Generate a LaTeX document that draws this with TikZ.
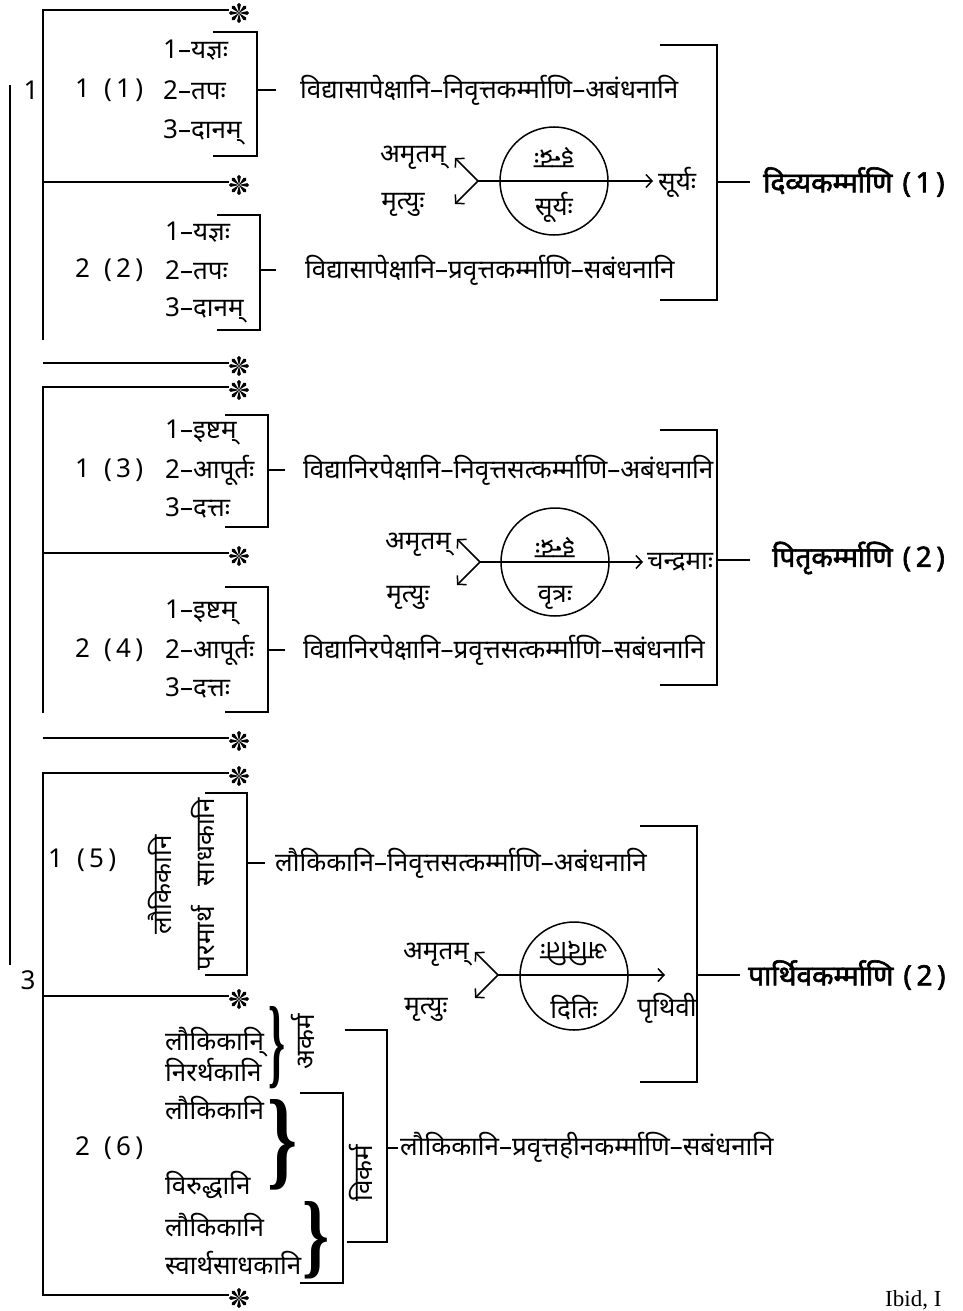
\documentclass[tikz,border=0pt]{standalone}
\usepackage{fontspec}
\newfontfamily\dev[Script=Devanagari]{Noto Sans}
\newfontfamily\devb[Script=Devanagari,FakeBold=2.2]{Noto Sans}
\newfontfamily\serifl{Liberation Serif}
\usetikzlibrary{arrows.meta,calc}
\tikzset{
 ln/.style={line width=1.5pt},
 tx/.style={font=\dev\fontsize{26}{28}\selectfont, inner sep=0pt, anchor=west},
 bd/.style={font=\devb\fontsize{28}{30}\selectfont, inner sep=0pt, anchor=west},
 ar/.style={ln,-{Straight Barb[length=6pt,width=13pt,line width=1.5pt]}},
 astn/.style={minimum size=19pt, inner sep=0pt},
 astr/.pic={\foreach \a in {0,45,...,315}{\fill[rotate=\a] (0,0) -- (8.3,-1.9) arc[start angle=-90,end angle=90,radius=1.9] -- cycle;}},
 circ/.style={circle,draw,line width=1.5pt,minimum size=108pt,inner sep=0pt},
 brc/.style={inner sep=0pt},
}
\newcommand\astat[2]{\node[astn] (#1) at (#2) {}; \pic at (#1.center) {astr};}
\newcommand\bigbr[2]{\resizebox{#1}{#2}{\serifl\bfseries\}}}
\begin{document}
\begin{tikzpicture}[x=1pt,y=1pt]
\useasboundingbox (0,0) rectangle (962,-1311);
% outer line
\coordinate (o1) at (10,-85); \coordinate (o2) at (10,-965);
\draw[ln] (o1) -- (o2);
\node[tx,anchor=center] (n1) at (31,-90) {1};
\node[tx,anchor=center] (n3) at (28,-980) {3};

% ================= group 1
\astat{s1}{239,-13}
\astat{s2}{239,-185}
\coordinate (g1t) at (43,-10); \coordinate (g1b) at (43,-340); \coordinate (g1m) at (43,-182);
\draw[ln] (g1b) -- (g1t) -- (s1.west |- g1t);
\draw[ln] (g1m) -- (s2.west |- g1m);
\draw[ln] (213,-32) -| (257,-156) -- (213,-156);
\coordinate (b1m) at (257,-90); \draw[ln] (b1m) -- ++(19,0);
\node[tx] (i11) at (163,-50) {1–यज्ञः};
\node[tx] (i12) at (163,-90) {2–तपः};
\node[tx] (i13) at (163,-132) {3–दानम्};
\node[tx] (l1) at (75,-90) {1\hspace{14pt}(\,1\,)};
\node[tx] (t1) at (300,-90) {विद्यासापेक्षानि–निवृत्तकर्म्माणि–अबंधनानि};
\draw[ln] (217,-215) -| (260,-330) -- (217,-330);
\coordinate (b2m) at (260,-270); \draw[ln] (b2m) -- ++(16,0);
\node[tx] (i21) at (165,-232) {1–यज्ञः};
\node[tx] (i22) at (165,-270) {2–तपः};
\node[tx] (i23) at (165,-310) {3–दानम्};
\node[tx] (l2) at (75,-270) {2\hspace{14pt}(\,2\,)};
\node[tx] (t2) at (305,-270) {विद्यासापेक्षानि–प्रवृत्तकर्म्माणि–सबंधनानि};
\draw[ln] (660,-45) -| (717,-300) -- (660,-300);
\coordinate (B1m) at (717,-182); \draw[ln] (B1m) -- ++(33,0);
\node[bd] (L1) at (763,-182) {दिव्यकर्म्माणि\hspace{10pt}(\,1\,)};
% circle 1
\node[circ] (c1) at (554,-181) {};
\coordinate (v1) at (478,-181);
\node[tx] (e1) at (658,-182) {सूर्यः};
\draw[ar] (v1) -- ($(e1.west |- v1)+(-5,0)$);
\coordinate (u1) at (455,-158); \coordinate (d1) at (455,-204);
\draw[ar] (v1) -- (u1); \draw[ar] (v1) -- (d1);
\node[tx,anchor=center] (am1) at (413,-158) {अमृतम्};
\node[tx,anchor=center] (mr1) at (403,-205) {मृत्युः};
\node[tx,anchor=center,rotate=180] (ct1) at (554,-157) {इन्द्रः};
\node[tx,anchor=center] (cb1) at (554,-207) {सूर्यः};

% ================= group 2
\astat{s3}{239,-366}
\coordinate (f1) at (43,-363);
\draw[ln] (f1) -- (s3.west |- f1);
\astat{s4}{239,-390}
\astat{s5}{239,-556}
\coordinate (g2t) at (43,-387); \coordinate (g2b) at (43,-713); \coordinate (g2m) at (43,-553);
\draw[ln] (g2b) -- (g2t) -- (s4.west |- g2t);
\draw[ln] (g2m) -- (s5.west |- g2m);
\draw[ln] (225,-415) -| (268,-527) -- (225,-527);
\coordinate (b3m) at (268,-470); \draw[ln] (b3m) -- ++(17,0);
\node[tx] (i31) at (165,-432) {1–इष्टम्};
\node[tx] (i32) at (165,-470) {2–आपूर्तः};
\node[tx] (i33) at (165,-508) {3–दत्तः};
\node[tx] (l3) at (75,-470) {1\hspace{14pt}(\,3\,)};
\node[tx] (t3) at (303,-470) {विद्यानिरपेक्षानि–निवृत्तसत्कर्म्माणि–अबंधनानि};
\draw[ln] (225,-587) -| (268,-712) -- (225,-712);
\coordinate (b4m) at (268,-650); \draw[ln] (b4m) -- ++(17,0);
\node[tx] (i41) at (165,-612) {1–इष्टम्};
\node[tx] (i42) at (165,-650) {2–आपूर्तः};
\node[tx] (i43) at (165,-688) {3–दत्तः};
\node[tx] (l4) at (75,-650) {2\hspace{14pt}(\,4\,)};
\node[tx] (t4) at (303,-650) {विद्यानिरपेक्षानि–प्रवृत्तसत्कर्म्माणि–सबंधनानि};
\astat{s6}{239,-741}
\coordinate (f2) at (43,-738);
\draw[ln] (f2) -- (s6.west |- f2);
\draw[ln] (660,-430) -| (717,-685) -- (660,-685);
\coordinate (B2m) at (717,-560); \draw[ln] (B2m) -- ++(33,0);
\node[bd] (L2) at (772,-558) {पितृकर्म्माणि\hspace{10pt}(\,2\,)};
% circle 2
\node[circ] (c2) at (555,-562) {};
\coordinate (v2) at (480,-562);
\node[tx] (e2) at (647,-562) {चन्द्रमाः};
\draw[ar] (v2) -- ($(e2.west |- v2)+(-4,0)$);
\coordinate (u2) at (457,-539); \coordinate (d2) at (457,-585);
\draw[ar] (v2) -- (u2); \draw[ar] (v2) -- (d2);
\node[tx,anchor=center] (am2) at (418,-545) {अमृतम्};
\node[tx,anchor=center] (mr2) at (408,-598) {मृत्युः};
\node[tx,anchor=center,rotate=180] (ct2) at (555,-547) {इन्द्रः};
\node[tx,anchor=center] (cb2) at (555,-598) {वृत्रः};

% ================= group 3
\astat{s7}{239,-776}
\astat{s8}{239,-999}
\astat{s9}{239,-1298}
\coordinate (g3t) at (43,-773); \coordinate (g3b) at (43,-1295); \coordinate (g3m) at (43,-996);
\draw[ln] (s7.west |- g3t) -- (g3t) -- (g3b) -- (s9.west |- g3b);
\draw[ln] (g3m) -- (s8.west |- g3m);
\draw[ln] (205,-793) -| (247,-975) -- (205,-975);
\coordinate (b5m) at (247,-863); \draw[ln] (b5m) -- ++(18,0);
\node[tx] (l5) at (48,-860) {1\hspace{14pt}(\,5\,)};
\node[tx,anchor=center,rotate=90] (r51) at (160,-885) {लौकिकानि};
\node[tx,anchor=center,rotate=90] (r52) at (203,-842) {साधकानि};
\node[tx,anchor=center,rotate=90] (r53) at (203,-938) {परमार्थ};
\node[tx] (t5) at (275,-863) {लौकिकानि–निवृत्तसत्कर्म्माणि–अबंधनानि};
\draw[ln] (640,-826) -| (697,-1082) -- (640,-1082);
\coordinate (B3m) at (697,-975); \draw[ln] (B3m) -- ++(43,0);
\node[bd] (L3) at (748,-975) {पार्थिवकर्म्माणि\hspace{10pt}(\,2\,)};
% circle 3
\node[circ] (c3) at (574,-976) {};
\coordinate (v3) at (498,-975);
\coordinate (e3) at (665,-975);
\draw[ar] (v3) -- (e3);
\coordinate (u3) at (475,-952); \coordinate (d3) at (475,-998);
\draw[ar] (v3) -- (u3); \draw[ar] (v3) -- (d3);
\node[tx,anchor=center] (am3) at (436,-955) {अमृतम्};
\node[tx,anchor=center] (mr3) at (426,-1010) {मृत्युः};
\node[tx,anchor=center,rotate=180] (ct3) at (574,-953) {अदितिः};
\node[tx,anchor=center] (cb3) at (574,-1008) {दितिः};
\node[tx,anchor=center] (pr3) at (667,-1008) {पृथिवी};

% bottom sub-tree (6)
\node[tx] (k1) at (165,-1042) {लौकिकानि्};
\node[tx] (k2) at (165,-1070) {निरर्थकानि};
\node[brc] (br1) at (277,-1048) {\bigbr{17pt}{69pt}};
\node[tx,anchor=center,rotate=90] (ak) at (303,-1042) {अकर्म};
\node[tx] (k3) at (165,-1108) {लौकिकानि};
\node[tx] (k4) at (165,-1185) {विरुद्धानि};
\node[brc] (br2) at (283,-1145) {\bigbr{30pt}{76pt}};
\node[tx] (k5) at (165,-1225) {लौकिकानि};
\node[tx] (k6) at (165,-1263) {स्वार्थसाधकानि};
\node[brc] (br3) at (316,-1240) {\bigbr{27pt}{65pt}};
\draw[ln] (300,-1093) -| (343,-1283) -- (300,-1283);
\node[tx,anchor=center,rotate=90] (vk) at (361,-1173) {विकर्म};
\draw[ln] (345,-1030) -| (387,-1242) -- (347,-1242);
\coordinate (b7m) at (387,-1148); \draw[ln] (b7m) -- ++(11,0);
\node[tx] (t6) at (400,-1147) {लौकिकानि–प्रवृत्तहीनकर्म्माणि–सबंधनानि};
\node[tx] (l6) at (75,-1148) {2\hspace{14pt}(\,6\,)};

\node[font=\serifl\fontsize{23}{26}\selectfont,inner sep=0pt,anchor=west] (ib) at (885,-1300) {Ibid, I};
\end{tikzpicture}
\end{document}
